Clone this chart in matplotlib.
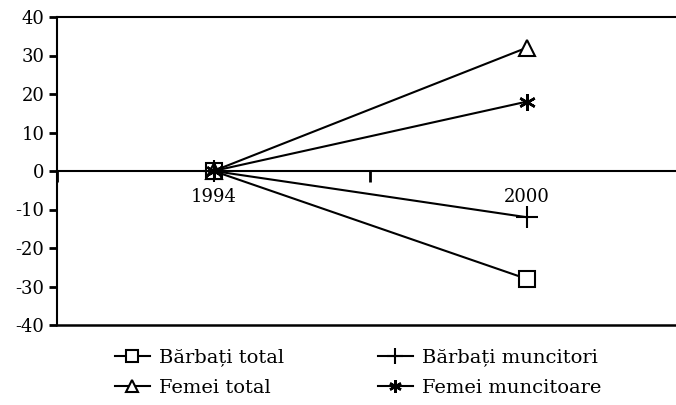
import matplotlib.pyplot as plt
from matplotlib.ticker import FixedLocator

plt.rcParams['font.family'] = ['DejaVu Serif']
plt.rcParams['axes.unicode_minus'] = False

years = ["1994", "2000"]
barbati_total = [0, -28]
barbati_muncitori = [0, -12]
femei_total = [0, 32]
femei_muncitoare = [0, 18]

fig = plt.figure(figsize=(6.76, 4.05), dpi=100)
ax = fig.add_axes([57 / 676, 1 - 325 / 405, 626 / 676, 308 / 405])

x = range(len(years))
common = dict(color="black", lw=1.5, mec="black", clip_on=False)
l1, = ax.plot(x, barbati_total, marker="s", ms=11, mfc="white", mew=1.5,
              label="Bărbați total", **common)
l3, = ax.plot(x, femei_total, marker="^", ms=12, mfc="white", mew=1.5,
              label="Femei total", **common)
l2, = ax.plot(x, barbati_muncitori, marker="+", ms=16, mew=1.5,
              label="Bărbați muncitori", **common)
l4, = ax.plot(x, femei_muncitoare, marker=(6, 2, 0), ms=12, mew=1.8,
              label="Femei muncitoare", **common)

ax.set_xlim(-0.5, 1.5)
ax.set_ylim(-40, 40)
ax.set_yticks(range(-40, 41, 10))
ax.set_xticks(list(x))
ax.set_xticklabels(years)
ax.xaxis.set_minor_locator(FixedLocator([-0.5, 0.5, 1.5]))

ax.spines['bottom'].set_position(('data', 0))
ax.spines['right'].set_visible(False)
for s in ['left', 'top', 'bottom']:
    ax.spines[s].set_linewidth(1.5)
ax.axhline(-40, color="black", lw=1.8, clip_on=False)

ax.tick_params(axis='y', direction='out', length=6, width=2, labelsize=13, pad=3)
ax.tick_params(axis='x', which='major', length=0, labelsize=13, pad=12)
ax.tick_params(axis='x', which='minor', direction='out', length=8, width=2)

fig.legend(handles=[l1, l3, l2, l4], ncol=2, loc="upper left",
           bbox_to_anchor=(97 / 676, 1 - 331 / 405), frameon=False,
           fontsize=14, handlelength=1.8, columnspacing=4.8,
           labelspacing=0.62, handletextpad=0.5, markerscale=0.75)

fig.savefig("out.png", dpi=100)
